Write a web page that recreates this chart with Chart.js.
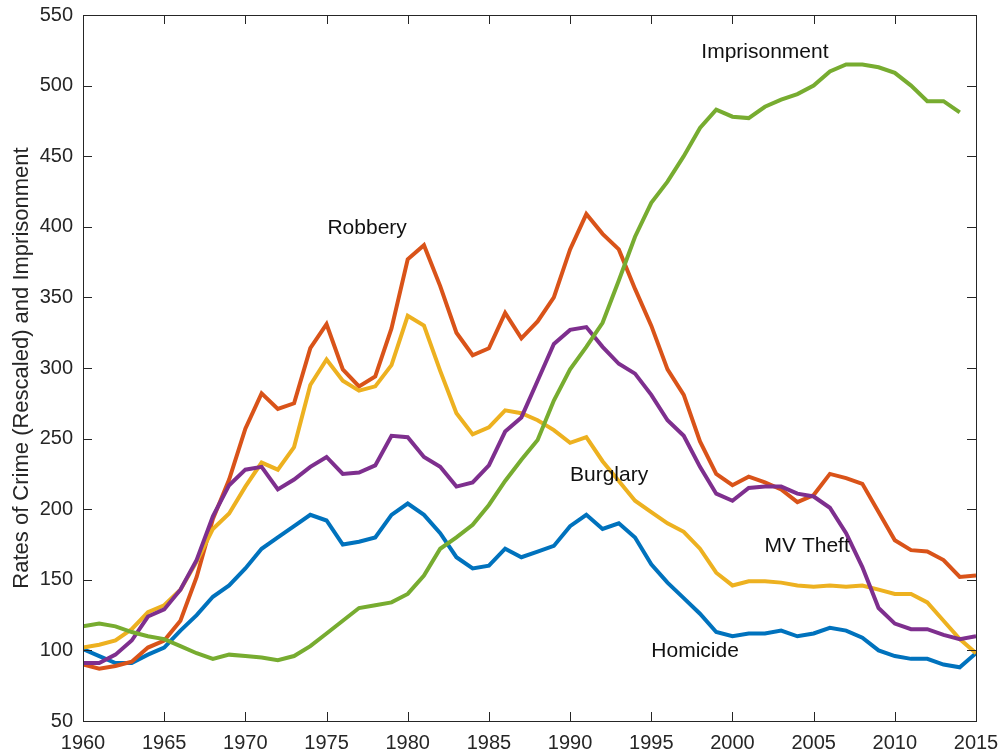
<!DOCTYPE html>
<html>
<head>
<meta charset="utf-8">
<title>Crime and Imprisonment</title>
<script src="https://cdn.jsdelivr.net/npm/chart.js@4.4.1/dist/chart.umd.min.js"></script>
<style>
  html, body { margin: 0; padding: 0; background: #fff; }
  #wrap { width: 1003px; height: 755px; position: relative; }
</style>
</head>
<body>
<div id="wrap"><canvas id="myChart"></canvas></div>
<script>
// values
const years = [1960, 1961, 1962, 1963, 1964, 1965, 1966, 1967, 1968, 1969,
  1970, 1971, 1972, 1973, 1974, 1975, 1976, 1977, 1978, 1979,
  1980, 1981, 1982, 1983, 1984, 1985, 1986, 1987, 1988, 1989,
  1990, 1991, 1992, 1993, 1994, 1995, 1996, 1997, 1998, 1999,
  2000, 2001, 2002, 2003, 2004, 2005, 2006, 2007, 2008, 2009,
  2010, 2011, 2012, 2013, 2014, 2015];

const homicide = [101, 96, 91, 91, 97, 102, 114, 125, 138, 146,
  158, 172, 180, 188, 196, 192, 175, 177, 180, 196,
  204, 196, 183, 166, 158, 160, 172, 166, 170, 174,
  188, 196, 186, 190, 180, 161, 148, 137, 126, 113,
  110, 112, 112, 114, 110, 112, 116, 114, 109, 100,
  96, 94, 94, 90, 88, 98];

const robbery = [90, 87, 89, 92, 102, 107, 121, 152, 193, 221,
  257, 282, 271, 275, 314, 331, 299, 287, 294, 328,
  377, 387, 358, 325, 309, 314, 339, 321, 333, 350,
  384, 409, 395, 384, 356, 330, 299, 281, 248, 225,
  217, 223, 219, 214, 205, 210, 225, 222, 218, 198,
  178, 171, 170, 164, 152, 153];

const burglary = [102, 104, 107, 115, 127, 132, 143, 163, 186, 197,
  216, 233, 228, 244, 288, 306, 291, 284, 287, 302,
  337, 330, 298, 268, 253, 258, 270, 268, 263, 256,
  247, 251, 234, 220, 206, 198, 190, 184, 172, 155,
  146, 149, 149, 148, 146, 145, 146, 145, 146, 143,
  140, 140, 134, 121, 108, 98];

const mvTheft = [91, 91, 97, 107, 124, 129, 143, 164, 195, 217,
  228, 230, 214, 221, 230, 237, 225, 226, 231, 252,
  251, 237, 230, 216, 219, 231, 255, 265, 291, 317,
  327, 329, 315, 303, 296, 281, 263, 252, 230, 211,
  206, 215, 216, 216, 211, 209, 201, 183, 159, 130,
  119, 115, 115, 111, 108, 110];

const imprisonment = [117, 119, 117, 113, 110, 108, 103, 98, 94, 97,
  96, 95, 93, 96, 103, 112, 121, 130, 132, 134,
  140, 153, 172, 180, 189, 203, 220, 235, 249, 277,
  299, 315, 332, 362, 393, 417, 432, 450, 470, 483,
  478, 477, 485, 490, 494, 500, 510, 515, 515, 513,
  509, 500, 489, 489, 481, null];

const xTicks = [1960, 1965, 1970, 1975, 1980, 1985, 1990, 1995, 2000, 2005, 2010, 2015];
const yTicks = [50, 100, 150, 200, 250, 300, 350, 400, 450, 500, 550];

// in-plot series names, placed in data units
const labelTexts = ['Imprisonment', 'Robbery', 'Burglary', 'MV Theft', 'Homicide'];
const labelYears = [2002, 1977.5, 1992.4, 2004.6, 1997.7];
const labelValues = [524, 399, 224, 174, 99.5];

const axisColor = '#262626';
const fontFamily = '"Liberation Sans", Arial, Helvetica, sans-serif';

const toPoints = (vals) => years.map((yr, i) => ({ x: yr, y: vals[i] }));

// MATLAB style box with inward ticks plus the text labels
const frameAndLabels = {
    id: 'frameAndLabels',
    afterDatasetsDraw(chart) {
        const { ctx, chartArea: a, scales: { x, y } } = chart;
        const tick = 9;
        ctx.save();
        ctx.strokeStyle = axisColor;
        ctx.lineWidth = 1;
        ctx.strokeRect(Math.round(a.left) + 0.5, Math.round(a.top) + 0.5,
            Math.round(a.right - a.left), Math.round(a.bottom - a.top));
        ctx.beginPath();
        xTicks.forEach(v => {
            const px = Math.round(x.getPixelForValue(v)) + 0.5;
            ctx.moveTo(px, a.bottom); ctx.lineTo(px, a.bottom - tick);
            ctx.moveTo(px, a.top); ctx.lineTo(px, a.top + tick);
        });
        yTicks.forEach(v => {
            const py = Math.round(y.getPixelForValue(v)) + 0.5;
            ctx.moveTo(a.left, py); ctx.lineTo(a.left + tick, py);
            ctx.moveTo(a.right, py); ctx.lineTo(a.right - tick, py);
        });
        ctx.stroke();

        ctx.fillStyle = '#111';
        ctx.font = '21px ' + fontFamily;
        ctx.textAlign = 'center';
        ctx.textBaseline = 'middle';
        labelTexts.forEach((t, i) => {
            ctx.fillText(t, x.getPixelForValue(labelYears[i]), y.getPixelForValue(labelValues[i]));
        });
        ctx.restore();
    }
};

const renderChart = () => {
    var ctx = document.getElementById('myChart').getContext('2d');
    const line = (label, vals, color) => ({
        label: label,
        data: toPoints(vals),
        borderColor: color,
        backgroundColor: color,
        borderWidth: 4,
        pointRadius: 0,
        tension: 0,
        spanGaps: false
    });
    new Chart(ctx, {
        type: 'line',
        data: {
            // first dataset is drawn on top
            datasets: [
                line('Imprisonment', imprisonment, '#77AC30'),
                line('MV Theft', mvTheft, '#7E2F8E'),
                line('Burglary', burglary, '#EDB120'),
                line('Robbery', robbery, '#D95319'),
                line('Homicide', homicide, '#0072BD')
            ]
        },
        options: {
            responsive: true,
            maintainAspectRatio: false,
            animation: false,
            layout: { padding: { top: 15, right: 27, left: 0, bottom: 0 } },
            plugins: {
                legend: { display: false },
                tooltip: { enabled: false }
            },
            scales: {
                x: {
                    type: 'linear',
                    min: 1960,
                    max: 2015,
                    afterFit: s => {
                        s.height = 34;
                        s.paddingLeft = 0;
                        s.paddingRight = 0;
                    },
                    afterBuildTicks: s => { s.ticks = xTicks.map(v => ({ value: v })); },
                    grid: { display: false, drawTicks: false },
                    border: { display: false },
                    ticks: {
                        padding: 10,
                        color: axisColor,
                        font: { family: fontFamily, size: 20 },
                        maxRotation: 0,
                        callback: v => String(v)
                    }
                },
                y: {
                    min: 50,
                    max: 550,
                    afterFit: s => {
                        s.width = 83;
                        s.paddingTop = 0;
                        s.paddingBottom = 0;
                    },
                    afterBuildTicks: s => { s.ticks = yTicks.map(v => ({ value: v })); },
                    grid: { display: false, drawTicks: false },
                    border: { display: false },
                    title: {
                        display: true,
                        text: 'Rates of Crime (Rescaled) and Imprisonment',
                        color: axisColor,
                        font: { family: fontFamily, size: 22 },
                        padding: { top: 9, bottom: 0 }
                    },
                    ticks: {
                        padding: 10,
                        color: axisColor,
                        font: { family: fontFamily, size: 20 },
                        callback: v => String(v)
                    }
                }
            }
        },
        plugins: [frameAndLabels]
    });
}

document.addEventListener('DOMContentLoaded', function() {
    renderChart();
});
</script>
</body>
</html>
